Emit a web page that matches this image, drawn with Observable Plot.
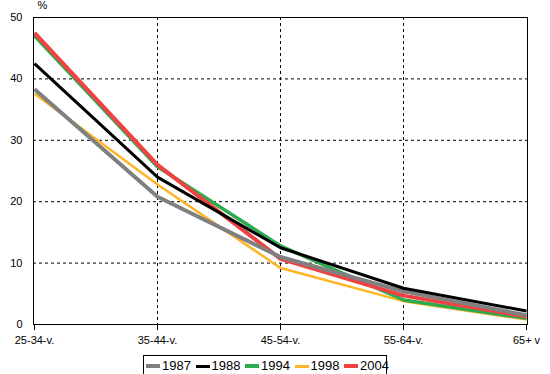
<!DOCTYPE html>
<html><head><meta charset="utf-8">
<script src="https://cdn.jsdelivr.net/npm/d3@7"></script>
<script src="https://cdn.jsdelivr.net/npm/@observablehq/plot@0.6"></script>
<style>
body{margin:0;background:#fff;font-family:"Liberation Sans",Arial,sans-serif;}
#wrap{position:relative;width:550px;height:374px;overflow:hidden;}
#legend{position:absolute;left:143px;top:355px;width:244px;height:24px;border:1px solid #000;box-sizing:border-box;background:#fff;font-size:13px;}
.item{position:absolute;top:2px;height:16px;line-height:16px;}
.sw{position:absolute;top:7px;width:14px;}
.lb{position:absolute;left:16px;top:0;}
</style></head>
<body><div id="wrap"><div id="chart"></div><div id="legend"></div></div>
<script>
const categories = ["25-34-v.", "35-44-v.", "45-54-v.", "55-64-v.", "65+ v"];
const years = ["1987", "1988", "1994", "1998", "2004"];
const v1987 = [38.3, 20.8, 11.0, 5.4, 1.5];
const v1988 = [42.5, 24.0, 12.5, 5.9, 2.2];
const v1994 = [47.0, 25.7, 12.8, 4.0, 1.0];
const v1998 = [37.6, 22.8, 9.2, 3.8, 0.8];
const v2004 = [47.5, 26.0, 10.7, 4.7, 1.3];
const colors = {"1987": "#808080", "1988": "#000000", "1994": "#2eaa4e", "1998": "#ffb526", "2004": "#f04242"};
const widths = {"1987": 4, "1988": 3, "1994": 3.5, "1998": 2.5, "2004": 4};
const yTicks = [0, 10, 20, 30, 40, 50];

const series = {"1987": v1987, "1988": v1988, "1994": v1994, "1998": v1998, "2004": v2004};
const drawOrder = ["1998", "1994", "2004", "1987", "1988"];
const rows = [];
for (const y of drawOrder) series[y].forEach((v, i) => rows.push({year: y, cat: categories[i], value: v}));

const chart = Plot.plot({
  width: 550, height: 350,
  marginLeft: 33, marginRight: 23, marginTop: 17, marginBottom: 26,
  style: {fontFamily: '"Liberation Sans", Arial, sans-serif', fontSize: "11px", color: "#000", background: "#fff"},
  x: {type: "point", domain: categories, padding: 0, label: null},
  y: {domain: [0, 50], ticks: yTicks, label: null},
  marks: [
    Plot.gridX(categories.slice(1, 4), {stroke: "#000", strokeOpacity: 1, strokeDasharray: "3,3"}),
    Plot.gridY(yTicks.slice(1, 5), {stroke: "#000", strokeOpacity: 1, strokeDasharray: "3,3"}),
    Plot.axisY(yTicks, {tickSize: 0, tickPadding: 11, fontSize: 11, label: null}),
    Plot.axisX(categories, {tickSize: 6, tickPadding: 6, fontSize: 11, label: null}),
    Plot.text(["%"], {frameAnchor: "top-left", dx: 4, dy: -16, fontSize: 11}),
    ...drawOrder.map(y => Plot.line(rows.filter(r => r.year === y), {
      x: "cat", y: "value", stroke: colors[y], strokeWidth: widths[y], strokeLinejoin: "miter", strokeLinecap: "butt"
    })),
    Plot.frame({stroke: "#000"})
  ]
});
document.getElementById("chart").appendChild(chart);

const lg = document.getElementById("legend");
years.forEach((y, i) => {
  const it = document.createElement("div");
  it.className = "item";
  it.style.left = (2 + i * 49.5) + "px";
  it.innerHTML = `<div class="sw" style="background:${colors[y]};height:${Math.max(3, widths[y])}px;top:${8 - Math.max(3, widths[y]) / 2}px"></div><div class="lb">${y}</div>`;
  lg.appendChild(it);
});
</script></body></html>
